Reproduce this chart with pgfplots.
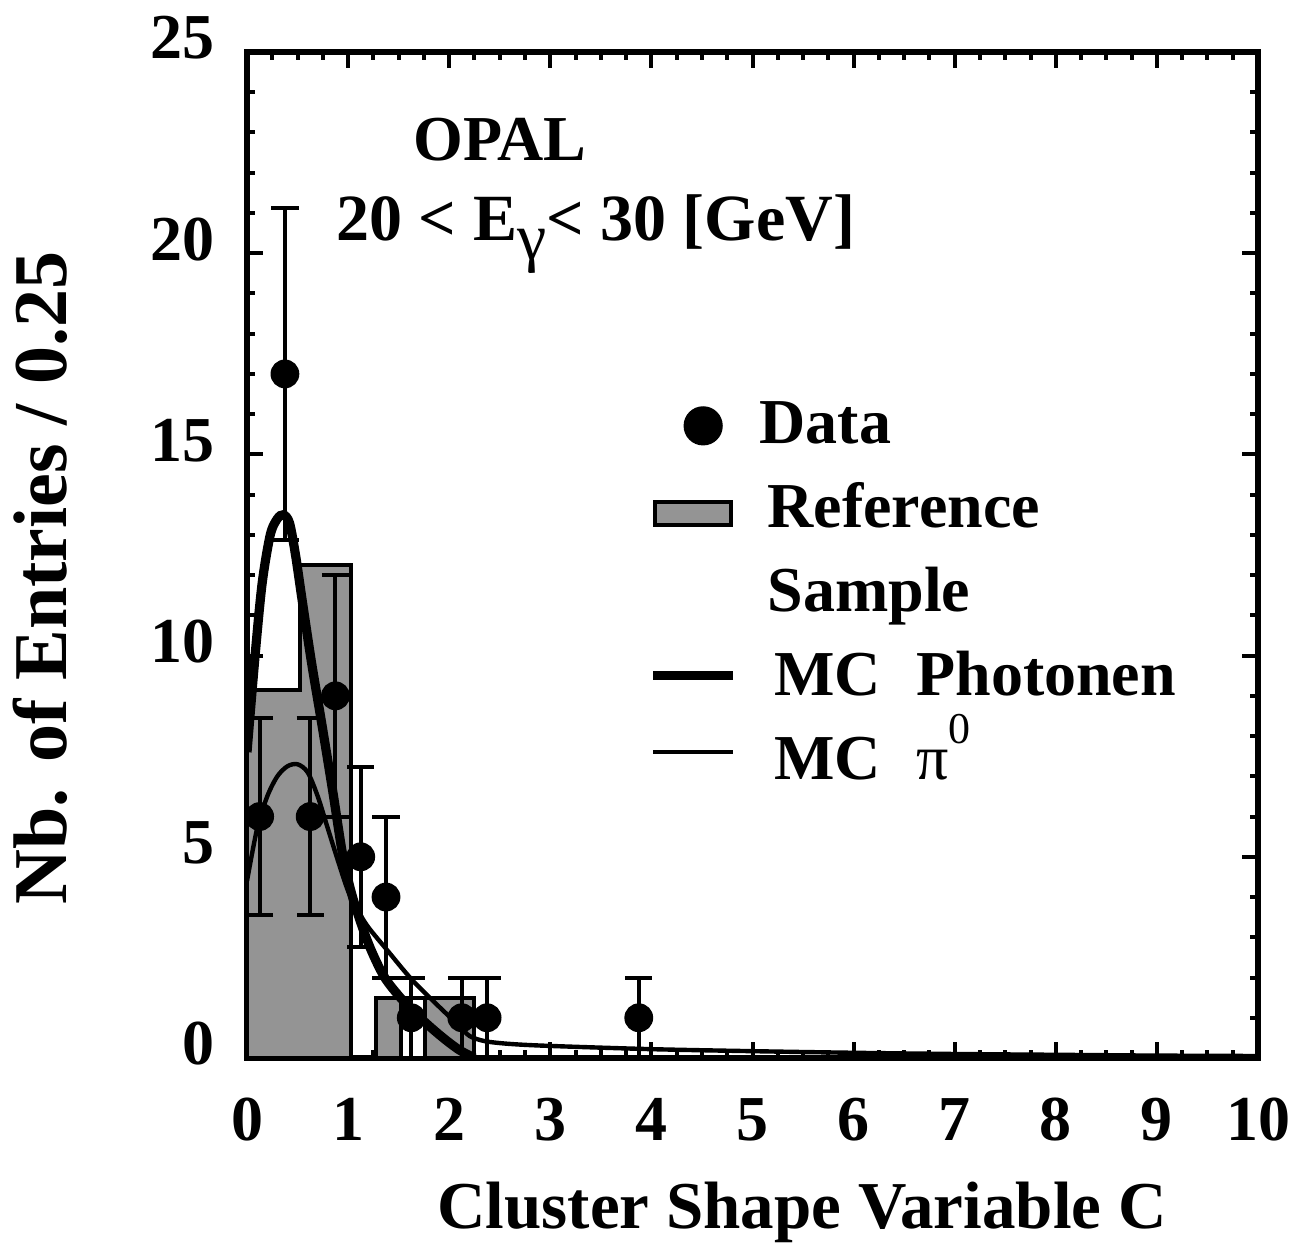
\documentclass[border=0pt]{standalone}
\usepackage{fontspec}
\setmainfont{Liberation Serif}
\usepackage{pgfplots}
\pgfplotsset{compat=1.18}
\begin{document}
\begin{tikzpicture}
\useasboundingbox (-61.75pt,-46pt) rectangle (261.5pt,264.5pt);
\begin{axis}[
  scale only axis, width=252.75pt, height=251.5pt,
  at={(0,0)}, anchor=south west,
  xmin=0, xmax=10, ymin=0, ymax=25,
  xtick={0,1,...,10}, ytick={0,5,...,25},
  minor x tick num=3, minor y tick num=4,
  tick align=inside,
  major tick length=4pt, minor tick length=2pt,
  tick style={line width=1pt, black},
  axis line style={line width=1.3pt},
  /pgf/number format/assume math mode=true,
  tick label style={font=\bfseries\fontsize{16}{19}\selectfont, inner sep=0pt},
  xticklabel style={anchor=base, yshift=-20.5pt},
  yticklabel style={anchor=east, xshift=-8pt, yshift=3.5pt},
  xlabel={Cluster Shape Variable C},
  xlabel style={at={(axis description cs:0.549,-0.169)}, anchor=base, font=\bfseries\fontsize{16.75}{20}\selectfont},
  ylabel={Nb. of Entries / 0.25},
  ylabel style={at={(axis description cs:-0.2047,0.477)}, anchor=center, font=\bfseries\fontsize{19}{22}\selectfont},
  legend style={at={(0.3966,0.659)}, anchor=north west, draw=none, fill=none,
    inner sep=0pt, row sep=4.0pt, column sep=5.5pt,
    nodes={inner sep=0pt, text height=12pt, text depth=5pt}, cells={anchor=base west},
    font=\bfseries\fontsize{16}{18.25}\selectfont},
]
% Reference sample histogram
\addplot[forget plot, fill=black!42, draw=black, line width=1pt] coordinates {(0,0) (0,9.15) (0.52,9.15) (0.52,12.25) (1.03,12.25) (1.03,0)} \closedcycle;
\addplot[forget plot, fill=black!42, draw=black, line width=1pt] coordinates {(1.28,0) (1.28,1.5) (1.52,1.5) (1.52,0)} \closedcycle;
\addplot[forget plot, fill=white, draw=black, line width=1pt] coordinates {(1.52,0) (1.52,1.5) (1.76,1.5) (1.76,0)} \closedcycle;
\addplot[forget plot, fill=black!42, draw=black, line width=1pt] coordinates {(1.76,0) (1.76,1.5) (2.25,1.5) (2.25,0)} \closedcycle;
% MC pi0 (thin)
\addplot[forget plot, black, line width=1.1pt, smooth, tension=0.5] coordinates {
(0,4.4) (0.1,5.7) (0.2,6.5) (0.3,7.0) (0.4,7.25) (0.5,7.3) (0.6,7.1) (0.7,6.5) (0.8,5.7) (0.9,4.9)
(1.0,4.15) (1.1,3.65) (1.2,3.25) (1.38,2.7) (1.63,1.95) (1.91,1.25) (2.1,0.8) (2.2,0.55) (2.35,0.42)
(2.6,0.35) (3,0.3) (4,0.22) (5,0.17) (6,0.13) (7,0.1) (8,0.08) (9,0.06) (10,0.05)};
% MC photons (thick)
\addplot[forget plot, black, line width=2.3pt, smooth, tension=0.5] coordinates {
(0,7.6) (0.08,10) (0.15,11.8) (0.23,13.0) (0.3,13.4) (0.36,13.5) (0.42,13.3) (0.48,12.5) (0.55,11.3)
(0.64,9.8) (0.74,8.3) (0.85,6.6) (0.95,5.0) (1.05,3.95) (1.2,2.85) (1.35,2.05) (1.5,1.55) (1.65,1.15)
(1.8,0.8) (1.95,0.48) (2.1,0.2) (2.25,0)};
% Data
\addplot[forget plot, only marks, mark=*, mark size=3.4pt, black,
  error bars/.cd, y dir=both, y explicit,
  error bar style={line width=1pt, black},
  error mark options={rotate=90, mark size=3.4pt, line width=1pt, black}]
coordinates {
(0.125,6) +- (0,2.45)
(0.375,17) +- (0,4.12)
(0.625,6) +- (0,2.45)
(0.875,9) +- (0,3)
(1.125,5) +- (0,2.24)
(1.375,4) +- (0,2)
(1.625,1) +- (0,1)
(2.125,1) +- (0,1)
(2.375,1) +- (0,1)
(3.875,1) +- (0,1)};
% legend
\addlegendimage{legend image code/.code={\fill[black] (12.5pt,4.5pt) circle (4.7pt); \path (0pt,0pt) (20pt,0pt);}}
\addlegendentry{Data}
\addlegendimage{legend image code/.code={\draw[line width=1pt, fill=black!42] (0.5pt,0.6pt) rectangle (19.5pt,6.4pt);}}
\addlegendentry{\hspace{2pt}Reference}
\addlegendimage{empty legend}
\addlegendentry{\hspace{2pt}Sample}
\addlegendimage{legend image code/.code={\draw[line width=2.2pt] (0pt,5pt) -- (20pt,5pt);}}
\addlegendentry{\hspace{3.75pt}MC\hspace{0.55em}Photonen}
\addlegendimage{legend image code/.code={\draw[line width=1.1pt] (0pt,7pt) -- (20pt,7pt);}}
\addlegendentry{\hspace{3.75pt}MC\hspace{0.55em}{\mdseries π\raisebox{9pt}{\fontsize{11}{11}\selectfont 0}}}
% text
\node[anchor=base, font=\bfseries\fontsize{16}{19}\selectfont] at (rel axis cs:0.250,0.8926) {OPAL};
\node[anchor=base, font=\bfseries\fontsize{16.5}{19}\selectfont] at (rel axis cs:0.345,0.813) {20 < E{\mdseries\raisebox{-0.3em}{γ}}< 30 [GeV]};
\end{axis}
\end{tikzpicture}
\end{document}
